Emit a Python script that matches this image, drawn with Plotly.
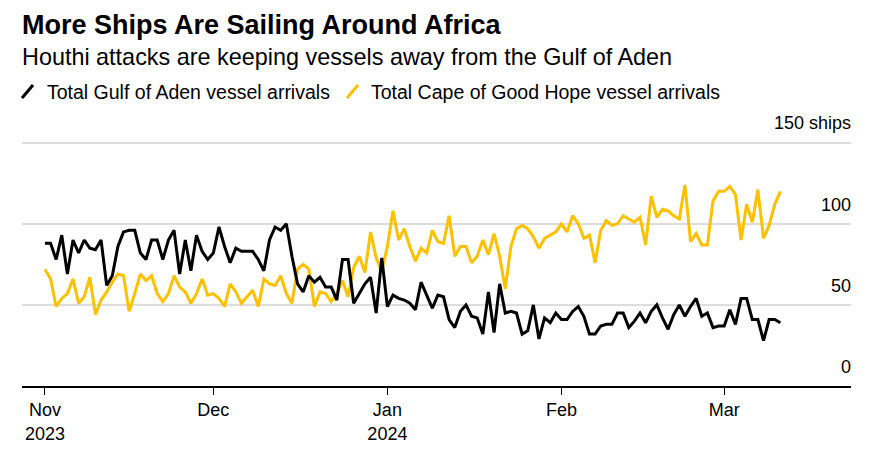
import datetime as dt
import plotly.graph_objects as go

# ---- data (daily, starting 2023-11-01) ----
start_date = "2023-11-01"
gulf_of_aden = [
    88, 88, 78, 93, 69, 90, 82, 90, 85, 84,
    90, 62, 68, 86, 95, 96, 96, 82, 78, 90,
    90, 78, 90, 96, 69, 90, 71, 93, 83, 78,
    82, 98, 86, 76, 85, 83, 83, 83, 78, 71,
    90, 98, 96, 100, 80, 63, 58, 68, 64, 67,
    61, 61, 53, 78, 78, 51, 57, 63, 67, 45,
    79, 49, 56, 54, 53, 51, 47, 64, 56, 48,
    56, 55, 41, 36, 46, 50, 43, 42, 32, 58,
    33, 63, 45, 46, 45, 32, 34, 50, 29, 42,
    39, 45, 41, 41, 46, 49, 43, 32, 32, 37,
    38, 38, 45, 45, 36, 40, 45, 39, 46, 50,
    42, 35, 44, 50, 43, 49, 54, 43, 45, 36,
    37, 37, 47, 38, 54, 54, 41, 41, 28, 41,
    41, 39,
]
cape_of_good_hope = [
    72, 66, 49, 54, 57, 66, 51, 55, 67, 44,
    53, 58, 64, 69, 68, 46, 57, 69, 65, 68,
    57, 52, 57, 68, 61, 58, 51, 57, 66, 56,
    57, 54, 49, 63, 58, 51, 55, 59, 49, 66,
    63, 62, 68, 57, 51, 72, 75, 72, 49, 58,
    57, 52, 57, 65, 55, 73, 80, 70, 95, 79,
    71, 86, 108, 90, 97, 86, 77, 85, 82, 96,
    89, 88, 105, 80, 86, 86, 76, 80, 90, 81,
    94, 80, 60, 86, 97, 99, 97, 92, 85, 91,
    93, 95, 100, 95, 105, 100, 91, 93, 76, 96,
    102, 99, 100, 105, 103, 101, 104, 87, 117, 104,
    109, 108, 105, 103, 124, 89, 94, 87, 87, 114,
    120, 120, 123, 118, 90, 112, 101, 121, 91, 99,
    112, 120,
]
series_names = ["Total Gulf of Aden vessel arrivals", "Total Cape of Good Hope vessel arrivals"]
x_tick_values = ["2023-11-01", "2023-12-01", "2024-01-01", "2024-02-01", "2024-03-01"]
x_tick_labels = ["Nov<br>2023", "Dec", "Jan<br>2024", "Feb", "Mar"]
y_tick_values = [0, 50, 100, 150]
y_tick_labels = ["0", "50", "100", "150 ships"]

d0 = dt.date.fromisoformat(start_date)
dates = [d0 + dt.timedelta(days=i) for i in range(len(gulf_of_aden))]

BLACK = "#000000"
YELLOW = "#FFC000"
FONT = "Liberation Sans, Arial, sans-serif"

W, H = 876, 459
ML, MR, MT, MB = 22, 25, 110, 73
PW, PH = W - ML - MR, H - MT - MB
PX_PER_SHIP = 1.622
Y_TOP = PH / PX_PER_SHIP


def px(xp):
    return (xp - ML) / PW


def py(yp):
    return (H - MB - yp) / PH


fig = go.Figure()
fig.add_trace(go.Scatter(x=dates, y=cape_of_good_hope, mode="lines", name=series_names[1],
                         line=dict(color=YELLOW, width=3), showlegend=False))
fig.add_trace(go.Scatter(x=dates, y=gulf_of_aden, mode="lines", name=series_names[0],
                         line=dict(color=BLACK, width=3), showlegend=False))

annotations = [
    dict(text="<b>More Ships Are Sailing Around Africa</b>", x=px(20), y=py(25),
         xanchor="left", yanchor="middle", font=dict(size=27, color="#000")),
    dict(text="Houthi attacks are keeping vessels away from the Gulf of Aden", x=px(20), y=py(57),
         xanchor="left", yanchor="middle", font=dict(size=23.4, color="#000")),
    dict(text=series_names[0], x=px(45), y=py(92), xanchor="left", yanchor="middle",
         font=dict(size=19.5, color="#000")),
    dict(text=series_names[1], x=px(369), y=py(92), xanchor="left", yanchor="middle",
         font=dict(size=19.5, color="#000")),
]
for a in annotations:
    a.update(xref="paper", yref="paper", showarrow=False)

shapes = [
    dict(type="line", xref="paper", yref="paper", x0=px(22), y0=py(98), x1=px(33), y1=py(85),
         line=dict(color=BLACK, width=3)),
    dict(type="line", xref="paper", yref="paper", x0=px(347), y0=py(98), x1=px(358), y1=py(85),
         line=dict(color=YELLOW, width=3)),
]

fig.update_layout(
    width=W, height=H,
    margin=dict(l=ML, r=MR, t=MT, b=MB),
    paper_bgcolor="white", plot_bgcolor="white",
    font=dict(family=FONT, color="#000"),
    annotations=annotations, shapes=shapes,
    showlegend=False,
)
fig.update_xaxes(
    type="date",
    range=["2023-10-27 22:00", "2024-03-23 14:00"],
    tickvals=x_tick_values, ticktext=x_tick_labels,
    ticks="outside", ticklen=7, tickwidth=1, tickcolor="#000",
    showline=True, linecolor="#000", linewidth=1.5,
    showgrid=False, zeroline=False,
    tickfont=dict(size=18, color="#000"),
)
fig.update_yaxes(
    range=[0, Y_TOP], side="right",
    tickvals=y_tick_values, ticktext=y_tick_labels,
    ticklabelposition="inside top", ticklabelshift=-7, ticklabelstandoff=-3,
    showgrid=True, gridcolor="#dddddd", gridwidth=1.5,
    zeroline=False, ticks="",
    tickfont=dict(size=18, color="#000"),
)

fig.write_html("out.html")
